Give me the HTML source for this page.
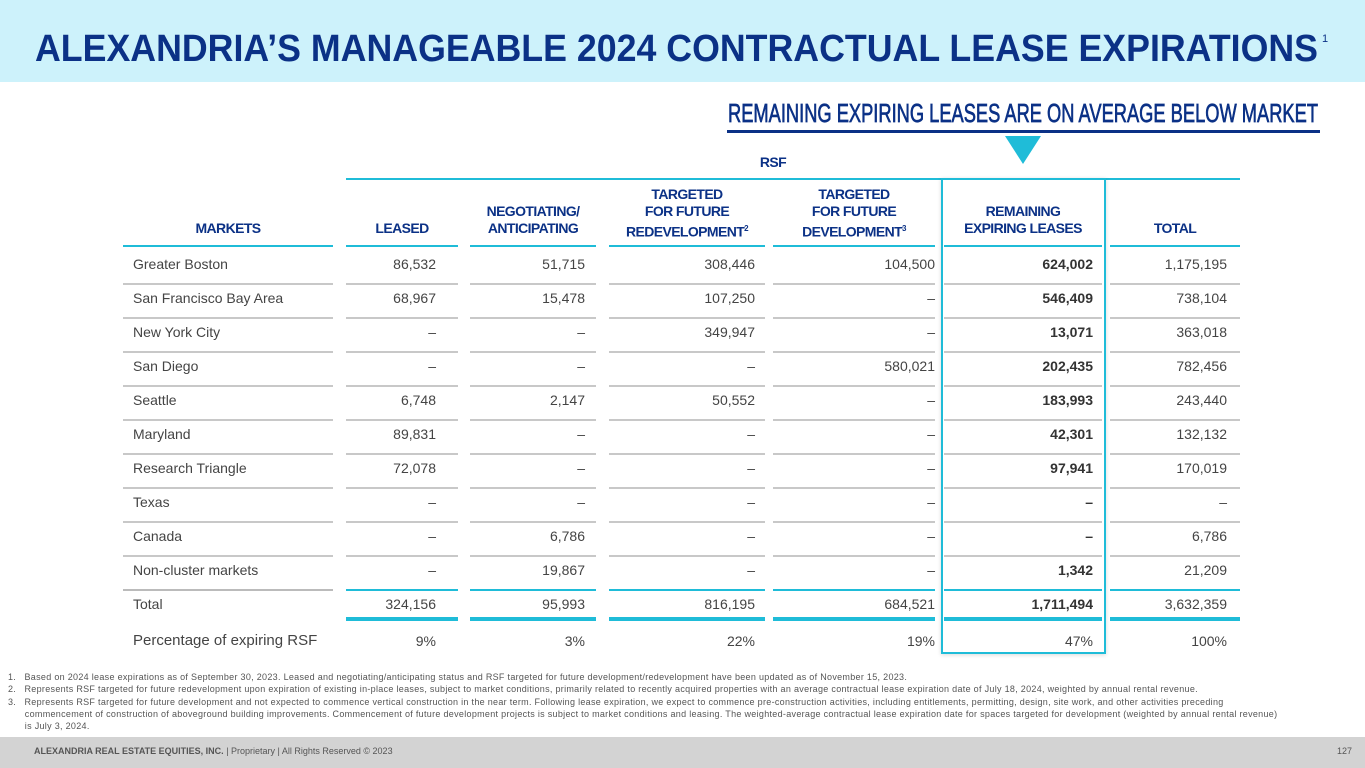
<!DOCTYPE html>
<html><head><meta charset="utf-8">
<style>
body{margin:0;width:1365px;height:768px;position:relative;overflow:hidden;background:#fff;font-family:"Liberation Sans",sans-serif;}
.abs{position:absolute;}
.hdr{position:absolute;color:#0b3186;font-weight:bold;font-size:14px;text-align:center;line-height:17px;letter-spacing:-0.6px;}
.cell{position:absolute;font-size:14px;color:#444;white-space:nowrap;}
.fn{position:absolute;left:8px;font-size:9px;color:#555;white-space:nowrap;letter-spacing:0.3px;}
</style></head><body>
<div class="abs" style="left:0;top:0;width:1365px;height:82px;background:#cdf2fb;"></div>
<svg class="abs" style="left:0;top:0" width="1365" height="170">
<text x="35" y="61" textLength="1283" lengthAdjust="spacingAndGlyphs" font-family="Liberation Sans" font-weight="bold" font-size="38" fill="#0b3186">ALEXANDRIA’S MANAGEABLE 2024 CONTRACTUAL LEASE EXPIRATIONS</text>
<text x="1322" y="42" font-family="Liberation Sans" font-size="11" fill="#0b3186">1</text>
<text x="728" y="122" textLength="590" lengthAdjust="spacingAndGlyphs" font-family="Liberation Sans" font-size="26" fill="#0b3186" stroke="#0b3186" stroke-width="0.7">REMAINING EXPIRING LEASES ARE ON AVERAGE BELOW MARKET</text>
<rect x="727" y="130" width="593" height="3" fill="#0b3186"/>
<polygon points="1005,136 1041,136 1023,164" fill="#1fbcd8"/>
</svg>
<div class="hdr" style="left:743px;top:154px;width:60px;">RSF</div>
<div class="abs" style="left:346px;top:178px;width:894px;height:2px;background:#1fbcd8;"></div>
<div class="abs" style="left:941px;top:178px;width:161px;height:472px;border:2px solid #1fbcd8;box-shadow:0 1px 4px rgba(0,0,0,0.15);"></div>
<div id="tbl"></div>
<div class="fn" style="top:672px;">1.&nbsp;&nbsp; Based on 2024 lease expirations as of September 30, 2023. Leased and negotiating/anticipating status and RSF targeted for future development/redevelopment have been updated as of November 15, 2023.</div>
<div class="fn" style="top:684px;">2.&nbsp;&nbsp; Represents RSF targeted for future redevelopment upon expiration of existing in-place leases, subject to market conditions, primarily related to recently acquired properties with an average contractual lease expiration date of July 18, 2024, weighted by annual rental revenue.</div>
<div class="fn" style="top:696px;line-height:12px;">3.&nbsp;&nbsp; Represents RSF targeted for future development and not expected to commence vertical construction in the near term. Following lease expiration, we expect to commence pre-construction activities, including entitlements, permitting, design, site work, and other activities preceding<br>&nbsp;&nbsp;&nbsp;&nbsp;&nbsp; commencement of construction of aboveground building improvements. Commencement of future development projects is subject to market conditions and leasing. The weighted-average contractual lease expiration date for spaces targeted for development (weighted by annual rental revenue)<br>&nbsp;&nbsp;&nbsp;&nbsp;&nbsp; is July 3, 2024.</div>
<div class="abs" style="left:0;top:737px;width:1365px;height:31px;background:#d3d3d3;"></div>
<div class="abs" style="left:34px;top:746px;font-size:9px;color:#555;"><b>ALEXANDRIA REAL ESTATE EQUITIES, INC.</b> | Proprietary | All Rights Reserved © 2023</div>
<div class="abs" style="left:1337px;top:746px;font-size:9px;color:#555;">127</div>
<script>
const markets=["Greater Boston","San Francisco Bay Area","New York City","San Diego","Seattle","Maryland","Research Triangle","Texas","Canada","Non-cluster markets","Total"];
const leased=["86,532","68,967","–","–","6,748","89,831","72,078","–","–","–","324,156"];
const negotiating=["51,715","15,478","–","–","2,147","–","–","–","6,786","19,867","95,993"];
const redevelopment=["308,446","107,250","349,947","–","50,552","–","–","–","–","–","816,195"];
const development=["104,500","–","–","580,021","–","–","–","–","–","–","684,521"];
const remaining=["624,002","546,409","13,071","202,435","183,993","42,301","97,941","–","–","1,342","1,711,494"];
const totals=["1,175,195","738,104","363,018","782,456","243,440","132,132","170,019","–","6,786","21,209","3,632,359"];
const percentages=["9%","3%","22%","19%","47%","100%"];
const headers=["MARKETS","LEASED","NEGOTIATING/<br>ANTICIPATING","TARGETED<br>FOR FUTURE<br>REDEVELOPMENT<sup style='font-size:8px'>2</sup>","TARGETED<br>FOR FUTURE<br>DEVELOPMENT<sup style='font-size:8px'>3</sup>","REMAINING<br>EXPIRING LEASES","TOTAL"];
const hdrNames=["markets","leased","negotiating","redevelopment","development","remaining","total"];
const colL=[123,346,470,609,773,944,1110];
const colR=[333,458,596,765,935,1102,1240];
const numRight=[0,436,585,755,935,1093,1227];
const root=document.getElementById('tbl');
function mk(cls,style,html,name){const d=document.createElement('div');d.className=cls;d.style.cssText=style;d.innerHTML=html;


root.appendChild(d);return d;}
headers.forEach((h,i)=>{
  const lines=h.split('<br>').length;
  mk('hdr',`left:${colL[i]}px;width:${colR[i]-colL[i]}px;top:${237-lines*17}px;`,h,'header-'+hdrNames[i]);
  mk('abs',`left:${colL[i]}px;width:${colR[i]-colL[i]}px;top:245px;height:2px;background:#1fbcd8;`,'','header-underline-'+hdrNames[i]);
});
const cols=[leased,negotiating,redevelopment,development,remaining,totals];
markets.forEach((m,r)=>{
  const top=256+r*34;
  mk('cell',`left:133px;top:${top}px;`,m,'row-label-'+r);
  cols.forEach((c,j)=>{
    const bold=j===4;
    const v=c[r];
    mk('cell',`right:${1365-numRight[j+1]}px;top:${top}px;${bold?'font-weight:bold;color:#333;':''}`,v,'cell-'+r+'-'+j);
  });
  const ly=top+27;
  if(r<markets.length-1){
    const gray=r<markets.length-2;
    colL.forEach((l,i)=>{
      const c=gray?'#c8c8c8':(i===0?'#bbb':'#1fbcd8');
      mk('abs',`left:${l}px;width:${colR[i]-l}px;top:${ly}px;height:2px;background:${c};`,'','row-line-'+r+'-'+i);
    });
  } else {
    colL.forEach((l,i)=>{ if(i>0) mk('abs',`left:${l}px;width:${colR[i]-l}px;top:${ly-6}px;height:4px;background:#1fbcd8;`,'','total-underline-'+i);});
  }
});
mk('cell',`left:133px;top:632px;font-size:15px;`,'Percentage of expiring RSF','pct-label');
percentages.forEach((p,j)=>mk('cell',`right:${1365-numRight[j+1]}px;top:633px;`,p,'pct-'+j));
</script>
</body></html>
